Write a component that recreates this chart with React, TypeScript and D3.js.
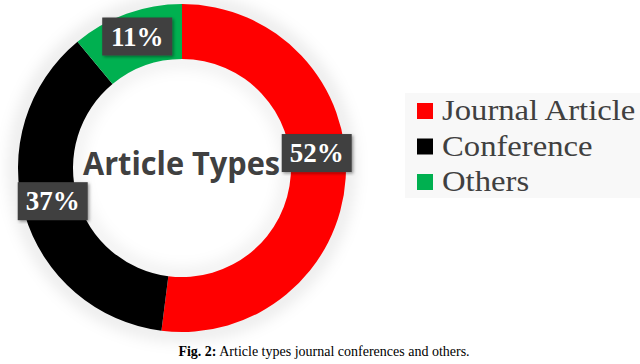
import React, { useEffect, useRef } from 'react';
import * as d3 from 'd3';

const categories = ['Journal Article', 'Conference', 'Others'];
const shares = [52, 37, 11];
const colors = ['#ff0000', '#000000', '#00b050'];
const centerTitle = 'Article Types';

const SERIF = "'Liberation Serif', 'Times New Roman', Times, 'DejaVu Serif', serif";

const App = () => {
  const ref = useRef<SVGSVGElement>(null);

  useEffect(() => {
    const svg = d3.select(ref.current);
    svg.selectAll('*').remove();

    const cx = 182;
    const cy = 168;
    const outer = 164;
    const inner = 109;

    const defs = svg.append('defs');
    defs
      .append('filter')
      .attr('id', 'soft')
      .attr('x', '-30%')
      .attr('y', '-30%')
      .attr('width', '160%')
      .attr('height', '160%')
      .append('feGaussianBlur')
      .attr('stdDeviation', 8);
    const boxShadow = defs.append('filter').attr('id', 'boxsh');
    boxShadow
      .append('feDropShadow')
      .attr('dx', 1.5)
      .attr('dy', 1.5)
      .attr('stdDeviation', 1.5)
      .attr('flood-opacity', 0.4);

    // legend panel
    svg.append('rect').attr('x', 405).attr('y', 93).attr('width', 235).attr('height', 105).attr('fill', '#f8f8f8');

    const g = svg.append('g').attr('transform', `translate(${cx},${cy})`);

    // soft shadow behind ring
    g.append('circle')
      .attr('r', outer + 2)
      .attr('fill', 'none')
      .attr('stroke', '#000')
      .attr('stroke-opacity', 0.12)
      .attr('stroke-width', 10)
      .attr('filter', 'url(#soft)');
    g.append('circle')
      .attr('r', inner - 2)
      .attr('fill', 'none')
      .attr('stroke', '#000')
      .attr('stroke-opacity', 0.1)
      .attr('stroke-width', 8)
      .attr('filter', 'url(#soft)');

    const data = categories.map((c, i) => ({ label: c, value: shares[i], color: colors[i] }));
    const pie = d3.pie<any>().value((d) => d.value).sort(null);
    const arc = d3.arc<any>().innerRadius(inner).outerRadius(outer);
    const arcs = pie(data);

    g.selectAll('path.slice')
      .data(arcs)
      .enter()
      .append('path')
      .attr('class', 'slice')
      .attr('d', arc)
      .attr('fill', (d) => d.data.color);

    g.append('text')
      .attr('x', -99)
      .attr('y', 7)
      .attr('textLength', 197)
      .attr('lengthAdjust', 'spacingAndGlyphs')
      .attr('font-family', 'Open Sans, sans-serif')
      .attr('font-weight', 700)
      .attr('font-size', 32)
      .attr('fill', '#404040')
      .text(centerTitle);

    // value labels: near the outer edge of each slice, nudged like the original
    const labelArc = d3.arc<any>().innerRadius(outer - 20).outerRadius(outer - 20);
    const offsets = [
      [-9, -24],
      [9, -7],
      [4, 4],
    ];
    arcs.forEach((d, i) => {
      const [px, py] = labelArc.centroid(d);
      const bx = px + offsets[i][0];
      const by = py + offsets[i][1];
      const lg = g.append('g').attr('transform', `translate(${bx},${by})`);
      lg.append('rect')
        .attr('x', -35)
        .attr('y', -19)
        .attr('width', 70)
        .attr('height', 38)
        .attr('fill', '#404040')
        .attr('filter', 'url(#boxsh)');
      lg.append('text')
        .attr('text-anchor', 'middle')
        .attr('y', 9)
        .attr('font-family', SERIF)
        .attr('font-weight', 700)
        .attr('font-size', 27)
        .attr('fill', '#ffffff')
        .text(`${d.data.value}%`);
    });

    // legend
    const leg = svg
      .selectAll('g.leg')
      .data(data)
      .enter()
      .append('g')
      .attr('class', 'leg')
      .attr('transform', (_d, i) => `translate(417,${103 + i * 35.5})`);
    leg.append('rect').attr('width', 16).attr('height', 16).attr('fill', (d) => d.color);
    leg
      .append('text')
      .attr('transform', 'translate(25,17) scale(1.09,1)')
      .attr('font-family', SERIF)
      .attr('font-size', 30)
      .attr('fill', '#404040')
      .text((d) => d.label);

    // caption
    const cap = svg
      .append('text')
      .attr('x', 324)
      .attr('y', 356)
      .attr('text-anchor', 'middle')
      .attr('font-family', SERIF)
      .attr('font-size', 14)
      .attr('fill', '#000');
    cap.append('tspan').attr('font-weight', 700).text('Fig. 2:');
    cap.append('tspan').text(' Article types journal conferences and others.');
  }, []);

  return (
    <svg
      ref={ref}
      width={640}
      height={364}
      style={{ position: 'absolute', left: 0, top: 0, background: '#fff' }}
    />
  );
};

export default App;
